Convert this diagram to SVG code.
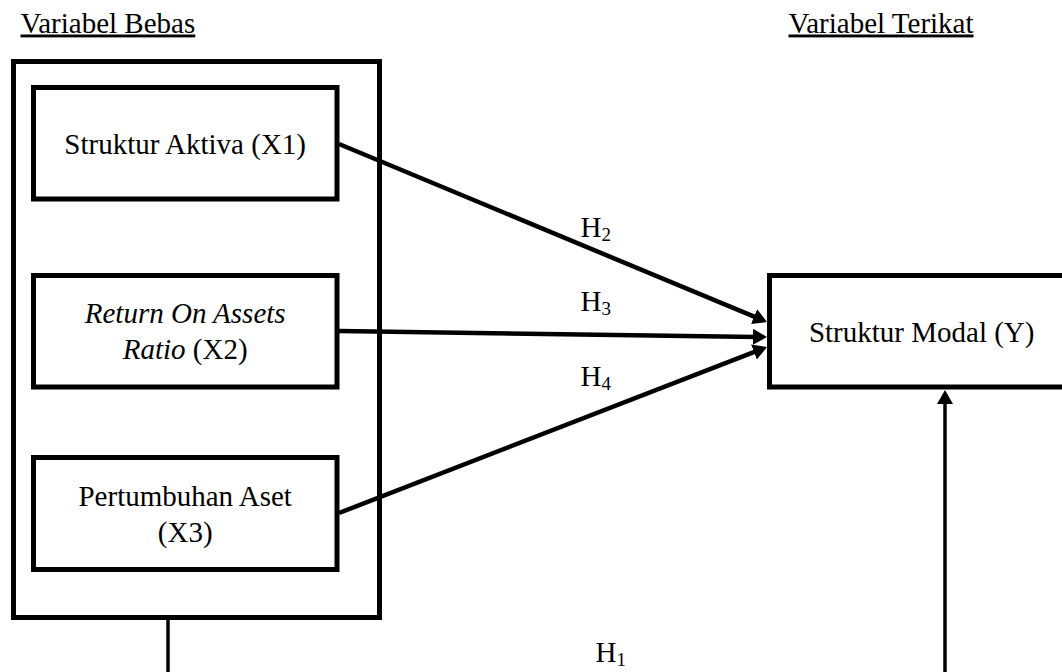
<svg xmlns="http://www.w3.org/2000/svg" width="1062" height="672" viewBox="0 0 1062 672">
<style>
.box{fill:#fff;stroke:#000;stroke-width:5}
.t{font-family:"Liberation Serif","Times New Roman",serif;font-size:29px;fill:#000}
.c{text-anchor:middle}
.it{font-style:italic}
.sub{font-size:19px}
.ln{stroke:#000;stroke-width:4.5;fill:none}
.vl{stroke:#000;stroke-width:3.5;fill:none}
</style>
<defs>
<marker id="ah" viewBox="0 0 14 16" refX="4" refY="8" markerWidth="14" markerHeight="16" markerUnits="userSpaceOnUse" orient="auto">
<path d="M0,0 L14,8 L0,16 z" fill="#000"/>
</marker>
</defs>
<rect width="1062" height="672" fill="#fff"/>
<g id="header-bebas"><text class="t" x="20.5" y="32.5" text-decoration="underline">Variabel Bebas</text></g>
<g id="header-terikat"><text class="t" x="788.5" y="32.5" text-decoration="underline">Variabel Terikat</text></g>
<g id="variabel-bebas"><rect class="box" x="13.5" y="61.5" width="366" height="556"/></g>
<g id="x1"><rect class="box" x="33.5" y="87.5" width="303.5" height="111.5"/><text class="t c" x="185.2" y="154">Struktur Aktiva (X1)</text></g>
<g id="x2"><rect class="box" x="33.5" y="275.5" width="303.5" height="111.5"/><text class="t c" x="185.2" y="323"><tspan class="it">Return On Assets</tspan></text><text class="t c" x="185.2" y="358.5"><tspan class="it">Ratio</tspan> (X2)</text></g>
<g id="x3"><rect class="box" x="33.5" y="457.5" width="303.5" height="112"/><text class="t c" x="185.2" y="506">Pertumbuhan Aset</text><text class="t c" x="185.2" y="541.5">(X3)</text></g>
<g id="y"><rect class="box" x="769.5" y="275.5" width="304" height="111.5"/><text class="t c" x="921.7" y="342">Struktur Modal (Y)</text></g>
<g id="connectors">
<line class="ln" x1="339" y1="144" x2="757.8" y2="318.2" marker-end="url(#ah)"/>
<line class="ln" x1="339" y1="331" x2="757" y2="336.9" marker-end="url(#ah)"/>
<line class="ln" x1="339" y1="513" x2="757.7" y2="350.6" marker-end="url(#ah)"/>
<line class="vl" x1="168" y1="620" x2="168" y2="675"/>
<line class="vl" x1="945" y1="675" x2="945" y2="400" marker-end="url(#ah)"/>
</g>
<g id="labels">
<text class="t" x="580.5" y="236.5">H<tspan class="sub" dy="4">2</tspan></text>
<text class="t" x="580.5" y="311">H<tspan class="sub" dy="4">3</tspan></text>
<text class="t" x="580.5" y="386">H<tspan class="sub" dy="4">4</tspan></text>
<text class="t" x="595.5" y="662">H<tspan class="sub" dy="4">1</tspan></text>
</g>
</svg>
